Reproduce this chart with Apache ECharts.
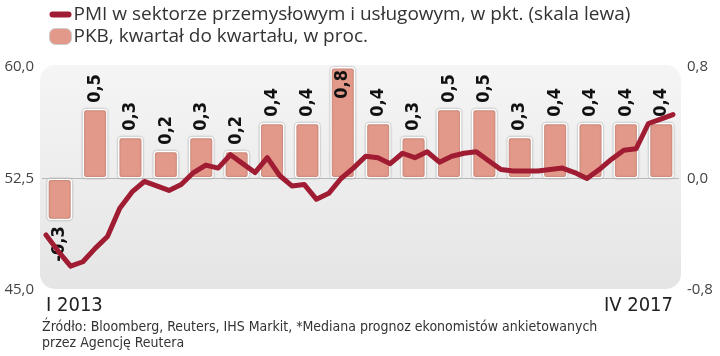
<!DOCTYPE html>
<html>
<head>
<meta charset="utf-8">
<script src="https://cdn.jsdelivr.net/npm/echarts@6/dist/echarts.min.js"></script>
<style>
html,body{margin:0;padding:0;background:#fff;}
#chart{width:720px;height:356px;}
</style>
</head>
<body>
<div id="chart"></div>
<script>
// Quarterly GDP q/q (%), I kw. 2013 – II kw. 2017
var quarters = ['I 2013','II 2013','III 2013','IV 2013','I 2014','II 2014','III 2014','IV 2014','I 2015','II 2015','III 2015','IV 2015','I 2016','II 2016','III 2016','IV 2016','I 2017','II 2017'];
var gdpValues = [-0.3, 0.5, 0.3, 0.2, 0.3, 0.2, 0.4, 0.4, 0.8, 0.4, 0.3, 0.5, 0.5, 0.3, 0.4, 0.4, 0.4, 0.4];
// Monthly PMI (I 2013 – IV 2017)
var monthNames = ['I','II','III','IV','V','VI','VII','VIII','IX','X','XI','XII'];
var pmiValues = [48.7, 47.6, 46.6, 46.9, 47.8, 48.6, 50.5, 51.6, 52.3, 52.0, 51.7, 52.1,
                 52.9, 53.4, 53.2, 54.1, 53.5, 52.9, 53.9, 52.7, 52.0, 52.1, 51.1, 51.5,
                 52.5, 53.2, 54.0, 53.9, 53.5, 54.2, 53.9, 54.3, 53.6, 54.0, 54.2, 54.3,
                 53.7, 53.1, 53.0, 53.0, 53.0, 53.1, 53.2, 52.9, 52.5, 53.1, 53.8, 54.4,
                 54.5, 56.2, 56.5, 56.8];
var leftTicks = {min: 45, max: 60, step: 7.5};
var rightTicks = {min: -0.8, max: 0.8, step: 0.8};
var legendNames = ['PMI w sektorze przemysłowym i usługowym, w pkt. (skala lewa)', 'PKB, kwartał do kwartału, w proc.'];
var sourceText = ['Źródło: Bloomberg, Reuters, IHS Markit, *Mediana prognoz ekonomistów ankietowanych', 'przez Agencję Reutera'];

var months = [];
for (var i = 0; i < pmiValues.length; i++) {
  months.push(monthNames[i % 12] + ' ' + (2013 + Math.floor(i / 12)));
}

function comma(v, d) { return v.toFixed(d).replace('.', ','); }

var narrow = "'DejaVu Sans Condensed', 'Liberation Sans Narrow', sans-serif";
var regular = "'Open Sans', 'Liberation Sans', Arial, sans-serif";

var chart = echarts.init(document.getElementById('chart'), null, {renderer: 'canvas'});

var axisMaxRight = rightTicks.max;
var barData = gdpValues.map(function (v) {
  var item = {value: v};
  if (v < 0) {
    item.label = {position: 'bottom', align: 'right', distance: 6};
  } else if (v >= axisMaxRight) {
    item.label = {position: 'insideTop', align: 'right', distance: 3};
  }
  return item;
});

var option = {
  animation: false,
  backgroundColor: '#ffffff',
  graphic: [
    {
      type: 'rect', z: -10, silent: true,
      shape: {x: 40, y: 65, width: 641, height: 224, r: 15},
      style: {
        fill: new echarts.graphic.LinearGradient(0, 0, 0, 1, [
          {offset: 0, color: '#f5f5f5'},
          {offset: 1, color: '#e5e5e5'}
        ])
      }
    },
    {
      type: 'text', left: 42, top: 319, silent: true,
      style: {text: sourceText.join('\n'), font: '14px ' + narrow, fill: '#333', lineHeight: 16}
    }
  ],
  legend: {
    orient: 'vertical',
    left: 44, top: 0,
    itemGap: 3,
    itemWidth: 22, itemHeight: 16,
    textStyle: {fontFamily: regular, fontSize: 19, color: '#333', padding: [0, 0, 0, -3]},
    data: [
      {name: legendNames[0], icon: 'path://M3,6 H19 A3,3 0 0 1 19,12 H3 A3,3 0 0 1 3,6 Z', itemStyle: {color: '#a01c32'}},
      {name: legendNames[1], icon: 'path://M6,0 H16 A6,6 0 0 1 22,6 V10 A6,6 0 0 1 16,16 H6 A6,6 0 0 1 0,10 V6 A6,6 0 0 1 6,0 Z', itemStyle: {color: '#e3998a', borderColor: '#ccc', borderWidth: 1}}
    ]
  },
  grid: [
    {left: 42, right: 41, top: 67, bottom: 66},
    {left: 46, right: 47, top: 67, bottom: 66}
  ],
  xAxis: [
    {
      type: 'category', gridIndex: 0, data: quarters, boundaryGap: true,
      axisLine: {show: false}, axisTick: {show: false}, axisLabel: {show: false}, splitLine: {show: false}
    },
    {
      type: 'category', gridIndex: 1, data: months, boundaryGap: false,
      axisLine: {show: false}, axisTick: {show: false}, splitLine: {show: false},
      axisLabel: {
        show: true, margin: 6,
        fontFamily: narrow, fontSize: 20, color: '#222',
        interval: function (idx) { return idx === 0 || idx === months.length - 1; },
        alignMinLabel: 'left', alignMaxLabel: 'right',
        showMinLabel: true, showMaxLabel: true
      }
    }
  ],
  yAxis: [
    {
      type: 'value', gridIndex: 0, position: 'left',
      min: leftTicks.min, max: leftTicks.max, interval: leftTicks.step,
      axisLine: {show: false}, axisTick: {show: false}, splitLine: {show: false},
      axisLabel: {margin: 8, fontFamily: regular, fontSize: 15, color: '#444', formatter: function (v) { return comma(v, 1); }}
    },
    {
      type: 'value', gridIndex: 0, position: 'right',
      min: rightTicks.min, max: rightTicks.max, interval: rightTicks.step,
      axisLine: {show: false}, axisTick: {show: false}, splitLine: {show: false},
      axisLabel: {margin: 8, fontFamily: regular, fontSize: 15, color: '#444', formatter: function (v) { return comma(v, 1); }}
    },
    {
      type: 'value', gridIndex: 1, show: false,
      min: leftTicks.min, max: leftTicks.max, interval: leftTicks.step,
      splitLine: {show: false}
    }
  ],
  series: [
    {
      name: legendNames[1], type: 'bar', xAxisIndex: 0, yAxisIndex: 1,
      data: barData, barWidth: 25, z: 2,
      itemStyle: {
        color: '#e3998a', borderColor: '#ffffff', borderWidth: 1.5, borderRadius: 3,
        shadowColor: 'rgba(0,0,0,0.35)', shadowBlur: 2
      },
      label: {
        show: true, position: 'top', rotate: 90, align: 'left', verticalAlign: 'middle', distance: 6,
        fontFamily: narrow, fontWeight: 'bold', fontSize: 18, color: '#111',
        formatter: function (p) { return comma(p.value, 1); }
      },
      markLine: {
        silent: true, symbol: 'none', label: {show: false},
        lineStyle: {color: '#b8b8b8', width: 1, type: 'solid'},
        data: [{yAxis: 0}]
      }
    },
    {
      name: legendNames[0], type: 'line', xAxisIndex: 1, yAxisIndex: 2,
      data: pmiValues, symbol: 'none', z: 5,
      lineStyle: {color: '#a01c32', width: 5, cap: 'round', join: 'round'},
      itemStyle: {color: '#a01c32'}
    }
  ]
};
chart.setOption(option);
</script>
</body>
</html>
